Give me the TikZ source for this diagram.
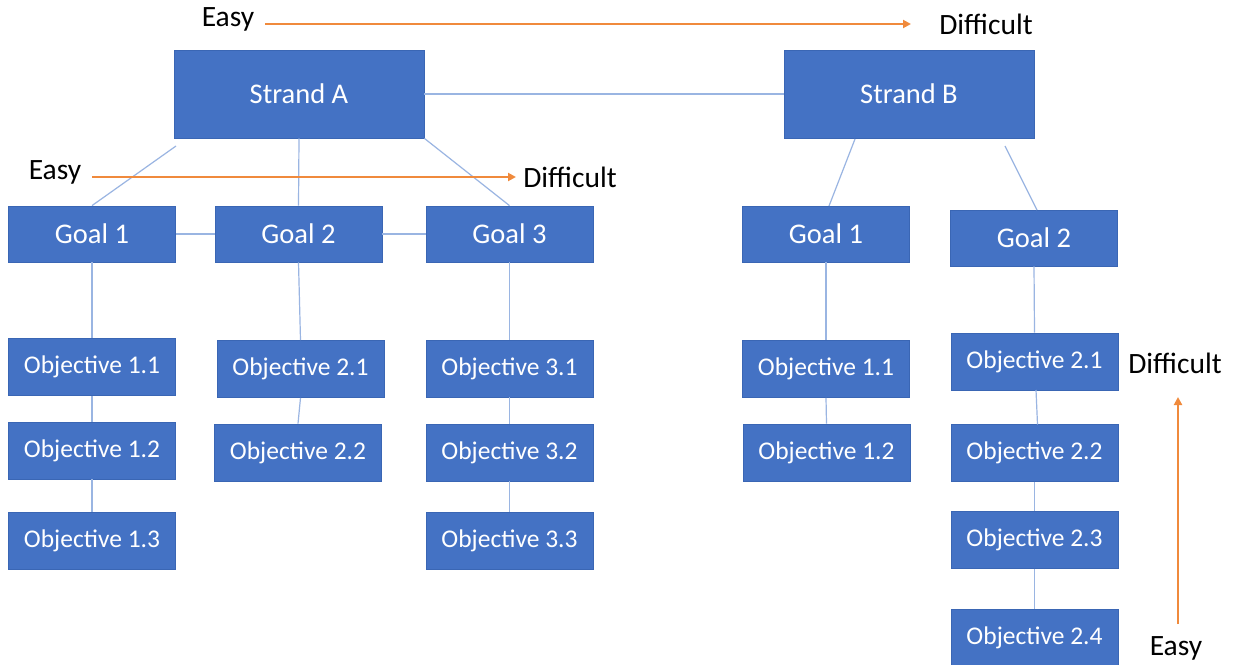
\documentclass[tikz,border=0pt]{standalone}
\usepackage{fontspec}
\setmainfont{Carlito}
\usetikzlibrary{arrows.meta,calc}
\definecolor{boxblue}{HTML}{4472C4}
\definecolor{boxedge}{HTML}{3A66B4}
\definecolor{linkblue}{HTML}{9AB5E2}
\definecolor{orangearrow}{HTML}{F08A3C}
\tikzset{
  box/.style={draw=boxedge, line width=0.8pt, fill=boxblue, text=white, inner sep=0pt, anchor=center},
  strandbox/.style={box, minimum width=250pt, minimum height=88pt, font=\fontsize{28.5}{32}\selectfont},
  goalbox/.style={box, minimum width=167pt, minimum height=56pt, font=\fontsize{28.5}{32}\selectfont},
  objbox/.style={box, minimum width=167pt, minimum height=57pt, font=\fontsize{25.5}{29}\selectfont},
  link/.style={draw=linkblue, line width=1.2pt},
  scale arrow/.style={draw=orangearrow, line width=2pt, -{Triangle[length=8pt,width=8pt]}},
  label text/.style={text=black, inner sep=0pt, anchor=center, font=\fontsize{29.5}{33}\selectfont}
}
\begin{document}
\begin{tikzpicture}[x=1pt, y=-1pt]
\useasboundingbox (0,0) rectangle (1236,664);
\fill[white] (0,0) rectangle (1236,664);

% Strands
\node[strandbox] (sA) at (299,94) {Strand A};
\node[strandbox] (sB) at (909,94) {Strand B};

% Goals
\node[goalbox] (gA1) at (92,234) {Goal 1};
\node[goalbox] (gA2) at (298.5,234) {Goal 2};
\node[goalbox] (gA3) at (509.5,234) {Goal 3};
\node[goalbox] (gB1) at (826,234) {Goal 1};
\node[goalbox] (gB2) at (1034,238) {Goal 2};

% Objectives A
\node[objbox] (oA11) at (92,367) {Objective 1.1};
\node[objbox] (oA12) at (92,450.5) {Objective 1.2};
\node[objbox] (oA13) at (92,540.5) {Objective 1.3};
\node[objbox] (oA21) at (300.5,369) {Objective 2.1};
\node[objbox] (oA22) at (298,452.5) {Objective 2.2};
\node[objbox] (oA31) at (509.5,368.5) {Objective 3.1};
\node[objbox] (oA32) at (509.5,452.5) {Objective 3.2};
\node[objbox] (oA33) at (509.5,540.5) {Objective 3.3};

% Objectives B
\node[objbox] (oB11) at (826,369) {Objective 1.1};
\node[objbox] (oB12) at (826.5,452.5) {Objective 1.2};
\node[objbox] (oB21) at (1034.5,361.5) {Objective 2.1};
\node[objbox] (oB22) at (1034.5,453) {Objective 2.2};
\node[objbox] (oB23) at (1034.5,540) {Objective 2.3};
\node[objbox] (oB24) at (1034.5,637.5) {Objective 2.4};

% free ends of connectors
\coordinate (sAleft) at (176,146);
\coordinate (sBleft) at (855,139);
\coordinate (sBright) at (1005,146);
\coordinate (gB1top) at (829,206);
\coordinate (gB2top) at (1037,210);
\coordinate (oB21low) at (1036,390);
\coordinate (oB22top) at (1037.5,424.5);

% Connectors
\draw[link] (sA.east) -- (sB.west);
\draw[link] (sAleft) -- (gA1.north);
\draw[link] (sA.south) -- (gA2.north);
\draw[link] (sA.south east) -- (gA3.north);
\draw[link] (gA1.east) -- (gA2.west);
\draw[link] (gA2.east) -- (gA3.west);
\draw[link] (sBleft) -- (gB1top);
\draw[link] (sBright) -- (gB2top);

\draw[link] (gA1.south) -- (oA11.north);
\draw[link] (oA11.south) -- (oA12.north);
\draw[link] (oA12.south) -- (oA13.north);
\draw[link] (gA2.south) -- (oA21.north);
\draw[link] (oA21.south) -- (oA22.north);
\draw[link] (gA3.south) -- (oA31.north);
\draw[link] (oA31.south) -- (oA32.north);
\draw[link] (oA32.south) -- (oA33.north);

\draw[link] (gB1.south) -- (oB11.north);
\draw[link] (oB11.south) -- (oB12.north);
\draw[link] (gB2.south) -- (oB21.north);
\draw[link] (oB21low) -- (oB22top);
\draw[link] (oB22.south) -- (oB23.north);
\draw[link] (oB23.south) -- (oB24.north);

% Difficulty labels and arrows
\node[label text] (easyTop) at (228,19) {Easy};
\node[label text] (diffTop) at (986,24) {Difficult};
\coordinate (tA) at (265,24);
\coordinate (tB) at (911,24);
\draw[scale arrow] (tA) -- (tB);

\node[label text] (easyMid) at (55,172) {Easy};
\node[label text] (diffMid) at (570,177) {Difficult};
\coordinate (mA) at (92,177);
\coordinate (mB) at (516,177);
\draw[scale arrow] (mA) -- (mB);

\node[label text] (diffRight) at (1175,363) {Difficult};
\node[label text] (easyRight) at (1176,648) {Easy};
\coordinate (rA) at (1178,624);
\coordinate (rB) at (1178,397);
\draw[scale arrow] (rA) -- (rB);
\end{tikzpicture}
\end{document}
